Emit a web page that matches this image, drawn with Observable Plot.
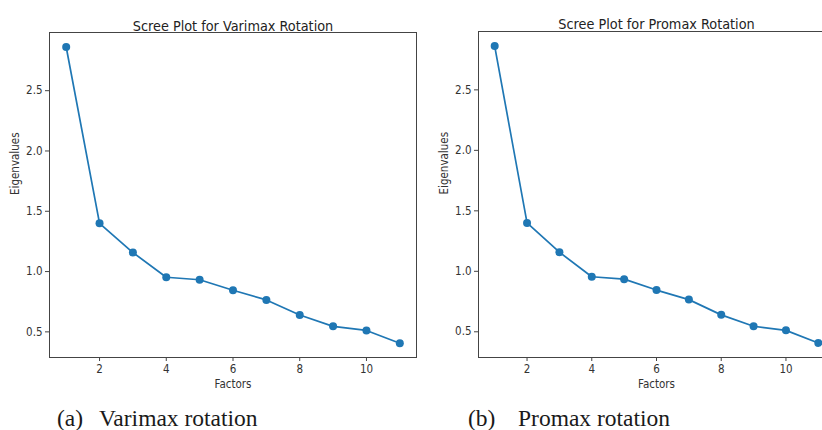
<!DOCTYPE html>
<html><head><meta charset="utf-8">
<script src="https://cdn.jsdelivr.net/npm/d3@7"></script>
<script src="https://cdn.jsdelivr.net/npm/@observablehq/plot@0.6"></script>
<style>
body{margin:0;background:#fff;}
#wrap{position:relative;width:822px;height:430px;overflow:hidden;background:#fff;}
.panel{position:absolute;top:0;}
.panel svg{max-width:none !important;display:block;background:transparent !important;}
.cap{position:absolute;font-family:"Liberation Serif","Times New Roman",serif;font-size:23.5px;color:#1a1a1a;white-space:pre;line-height:1;}
</style></head><body>
<div id="wrap"></div>
<script>
const factors = [1, 2, 3, 4, 5, 6, 7, 8, 9, 10, 11];
const varimaxEigen = [2.862, 1.400, 1.158, 0.953, 0.932, 0.845, 0.765, 0.640, 0.546, 0.512, 0.406];
const promaxEigen  = [2.862, 1.400, 1.158, 0.955, 0.935, 0.845, 0.766, 0.640, 0.546, 0.512, 0.408];
const xTicks = [2, 4, 6, 8, 10];
const yTicks = [0.5, 1.0, 1.5, 2.0, 2.5];
const titles = ["Scree Plot for Varimax Rotation", "Scree Plot for Promax Rotation"];
const xLabel = "Factors";
const yLabel = "Eigenvalues";
const captionTags = ["(a)", "(b)"];
const captionTexts = ["Varimax rotation", "Promax rotation"];

const FONT = '"DejaVu Sans Condensed", "DejaVu Sans", sans-serif';
const BLUE = "#1f77b4";

function scree(values, title, o) {
  const data = factors.map((f, i) => ({factor: f, eigen: values[i]}));
  return Plot.plot({
    width: o.width, height: 400,
    marginLeft: o.ml, marginRight: o.mr, marginTop: o.mt, marginBottom: 400 - o.bottom,
    style: {fontFamily: FONT, fontSize: "11.5px", color: "#333", background: "transparent", overflow: "visible", fontStretch: "condensed"},
    x: {domain: [0.5, 11.5]},
    y: {domain: [0.2875, 2.9825]},
    marks: [
      Plot.axisX({ticks: xTicks, tickSize: 4, tickPadding: 3, label: null, stroke: "#444", fontSize: 11.5, tickFormat: d => String(d)}),
      Plot.axisY({ticks: yTicks, tickSize: 4, tickPadding: 3, label: null, stroke: "#444", fontSize: 11.5, tickFormat: d => d.toFixed(1)}),
      Plot.frame({stroke: "#444", strokeWidth: 1}),
      Plot.line(data, {x: "factor", y: "eigen", stroke: BLUE, strokeWidth: 1.7}),
      Plot.dot(data, {x: "factor", y: "eigen", r: 4, fill: BLUE}),
      Plot.text([title], {frameAnchor: "top", dy: o.titleDy, fontSize: 14.3, fill: "#222"}),
      Plot.text([xLabel], {frameAnchor: "bottom", dy: 30, fontSize: 11.5, fill: "#333"}),
      Plot.text([yLabel], {frameAnchor: "left", dx: -34, rotate: -90, fontSize: 11.5, fill: "#333"})
    ]
  });
}

const wrap = document.getElementById("wrap");
const panels = [
  {values: promaxEigen, title: titles[1], left: 410, width: 428, ml: 68, mr: 4, mt: 31, bottom: 357, titleDy: -13},
  {values: varimaxEigen, title: titles[0], left: 0, width: 420, ml: 49, mr: 4, mt: 32, bottom: 357, titleDy: -12}
];
panels.forEach(p => {
  const svg = scree(p.values, p.title, p);
  svg.style.maxWidth = "none";
  svg.style.background = "transparent";
  const d = document.createElement("div");
  d.className = "panel";
  d.style.left = p.left + "px";
  d.style.width = p.width + "px";
  d.style.height = "400px";
  d.appendChild(svg);
  wrap.appendChild(d);
});

const caps = [
  {tagX: 57, textX: 99},
  {tagX: 468, textX: 518}
];
caps.forEach((c, i) => {
  const t = document.createElement("div");
  t.className = "cap"; t.style.left = c.tagX + "px"; t.style.top = "407px";
  t.textContent = captionTags[i];
  wrap.appendChild(t);
  const s = document.createElement("div");
  s.className = "cap"; s.style.left = c.textX + "px"; s.style.top = "407px";
  s.textContent = captionTexts[i];
  wrap.appendChild(s);
});
</script>
</body></html>
